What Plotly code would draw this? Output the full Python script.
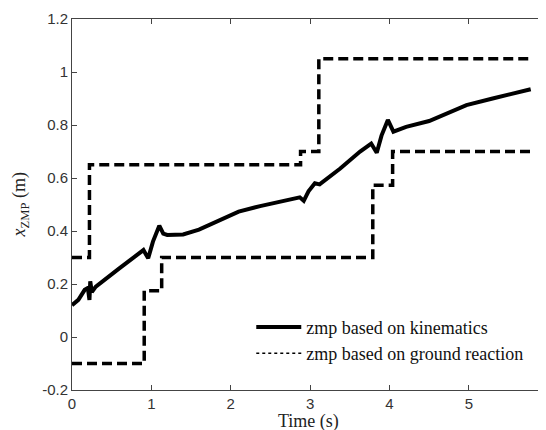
import plotly.graph_objects as go

# zmp based on kinematics (solid)
t_kin = [0, 0.08, 0.16, 0.2, 0.22, 0.23, 0.25, 0.3, 0.6, 0.9, 0.96, 1.02, 1.1, 1.15, 1.2, 1.4,
         1.6, 1.85, 2.1, 2.37, 2.62, 2.87, 2.92, 2.98, 3.06, 3.12, 3.38, 3.63, 3.77, 3.84,
         3.9, 3.98, 4.05, 4.21, 4.5, 4.87, 4.97, 5.3, 5.78]
zmp_kin = [0.12, 0.14, 0.178, 0.185, 0.14, 0.21, 0.17, 0.19, 0.26, 0.328, 0.297, 0.36, 0.42,
           0.39, 0.385, 0.387, 0.405, 0.44, 0.473, 0.494, 0.51, 0.527, 0.514, 0.55, 0.58,
           0.576, 0.636, 0.70, 0.73, 0.695, 0.76, 0.819, 0.775, 0.793, 0.815, 0.865, 0.875,
           0.9, 0.935]

# zmp based on ground reaction: upper and lower bounds (dashed steps)
t_upper = [0, 0.22, 0.22, 2.88, 2.88, 3.11, 3.11, 5.79]
zmp_upper = [0.3, 0.3, 0.65, 0.65, 0.70, 0.70, 1.05, 1.05]
t_lower = [0, 0.91, 0.91, 1.13, 1.13, 3.79, 3.79, 4.04, 4.04, 5.79]
zmp_lower = [-0.1, -0.1, 0.175, 0.175, 0.3, 0.3, 0.573, 0.573, 0.7, 0.7]

x_ticks = [0, 1, 2, 3, 4, 5]
y_ticks = [-0.2, 0, 0.2, 0.4, 0.6, 0.8, 1, 1.2]
y_tick_text = ["-0.2", "0", "0.2", "0.4", "0.6", "0.8", "1", "1.2"]

fig = go.Figure()
dash_style = dict(color="black", width=3.5, dash="10px,5px")
fig.add_trace(go.Scatter(x=t_upper, y=zmp_upper, mode="lines", line=dash_style, showlegend=False))
fig.add_trace(go.Scatter(x=t_lower, y=zmp_lower, mode="lines", line=dash_style, showlegend=False))
fig.add_trace(go.Scatter(x=t_kin, y=zmp_kin, mode="lines",
                         line=dict(color="black", width=4),
                         name="zmp based on kinematics"))
fig.add_trace(go.Scatter(x=[None], y=[None], mode="lines",
                         line=dict(color="black", width=1.5, dash="dot"),
                         name="zmp based on ground reaction"))

axis_common = dict(showgrid=False, zeroline=False, showline=True, linecolor="#444",
                   linewidth=1, mirror="ticks", ticks="inside", ticklen=5, tickcolor="#444",
                   automargin=False,
                   tickfont=dict(family="Liberation Sans, Arial", size=15, color="#333"))

fig.update_xaxes(range=[0, 5.96], tickvals=x_ticks, **axis_common)
fig.update_yaxes(range=[-0.2, 1.2], tickvals=y_ticks, ticktext=y_tick_text, **axis_common)

fig.add_annotation(text="Time (s)", xref="paper", yref="paper", x=0.5, y=-0.084,
                   xanchor="center", yanchor="middle", showarrow=False,
                   font=dict(family="Liberation Serif", size=18, color="#222"))
fig.add_annotation(text="<i>x</i><sub>ZMP</sub> (m)", xref="paper", yref="paper",
                   x=-0.108, y=0.5, xanchor="center", yanchor="middle", showarrow=False,
                   textangle=-90,
                   font=dict(family="Liberation Serif", size=18, color="#222"))

# page body has an 8px default margin, so the figure is sized/offset to compensate
fig.update_layout(
    width=538, height=422,
    margin=dict(l=64, r=1, t=11, b=40),
    plot_bgcolor="white", paper_bgcolor="white",
    legend=dict(x=0.379, y=0.219, xanchor="left", yanchor="top",
                bgcolor="rgba(255,255,255,0)", borderwidth=0,
                font=dict(family="Liberation Serif", size=18, color="#111"),
                itemwidth=45, tracegroupgap=0),
)

fig.write_html("out.html")
